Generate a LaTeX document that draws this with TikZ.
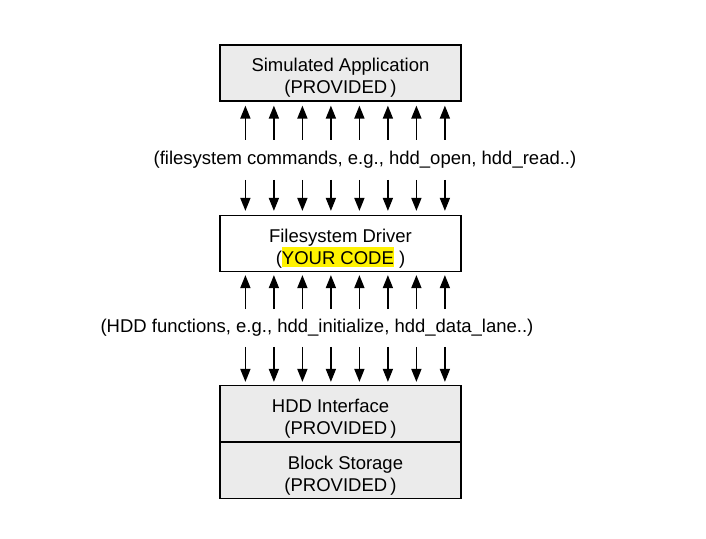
\documentclass[tikz,border=0pt]{standalone}
\usepackage{fontspec}
\setmainfont{Liberation Sans}
\usepackage{tikz}
\usetikzlibrary{arrows.meta}
\usetikzlibrary{positioning}
\definecolor{boxgray}{HTML}{EBEBEB}
\newcommand{\marked}[1]{{\setlength{\fboxsep}{0pt}\colorbox{yellow}{\rule[-3pt]{0pt}{19.7pt}#1}}}
\newcommand{\topgap}{\rule{0pt}{23pt}}
\tikzset{layer/.style={draw,line width=1.2pt,minimum width=241pt,minimum height=56pt,
           inner sep=0pt,align=center,font=\fontsize{18.5}{22}\selectfont},
         provided/.style={layer,fill=boxgray},
         lane/.style={line width=1.6pt,-{Triangle[length=13pt,width=10pt]}},
         caption/.style={font=\fontsize{18.5}{22}\selectfont}}

\begin{document}
\begin{tikzpicture}[x=1pt,y=1pt]
\useasboundingbox (0,0) rectangle (706,-538);
\node[provided] (app) at (340.5,-73) {\topgap Simulated Application\\(PROVIDED\,)};
\node[layer] (driver) at (340.5,-243.5) {\topgap Filesystem Driver\\(\marked{YOUR CODE} )};
\node[provided] (hdd) at (340.5,-413.5) {\topgap HDD Interface\hspace*{20pt}\\(PROVIDED\,)};
\node[provided,below=0pt of hdd] (storage) {\topgap\hspace{10pt}Block Storage\\(PROVIDED\,)};
\node[caption] (cmds) at (365,-160) {(filesystem commands, e.g., hdd\_open, hdd\_read..)};
\node[caption] (funcs) at (317,-328) {(HDD functions, e.g., hdd\_initialize, hdd\_data\_lane..)};
% eight lanes above and below each caption
\foreach \k in {0,...,7}{
  \draw[lane] ([shift={(26+28.5*\k,-38)}]app.south west) -- ([shift={(26+28.5*\k,-4)}]app.south west);
  \draw[lane] ([shift={(26+28.5*\k,35)}]driver.north west) -- ([shift={(26+28.5*\k,4)}]driver.north west);
  \draw[lane] ([shift={(26+28.5*\k,-37)}]driver.south west) -- ([shift={(26+28.5*\k,-3)}]driver.south west);
  \draw[lane] ([shift={(26+28.5*\k,38)}]hdd.north west) -- ([shift={(26+28.5*\k,3)}]hdd.north west);
}
\end{tikzpicture}
\end{document}
